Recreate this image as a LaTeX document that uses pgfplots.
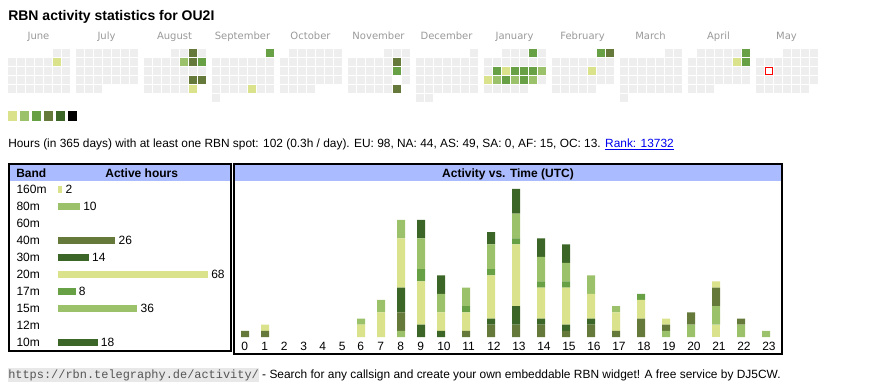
\documentclass[border=0pt]{standalone}
\usepackage{pgfplots}
\pgfplotsset{compat=1.18}
\usepackage{pgfplotstable}
\usepackage{fontspec}
\setmainfont{Liberation Sans}
\setmonofont{Liberation Mono}
\newfontfamily\verd{DejaVu Sans}

\definecolor{lvA}{HTML}{DAE28B}
\definecolor{lvB}{HTML}{9CC16B}
\definecolor{lvC}{HTML}{68A046}
\definecolor{lvD}{HTML}{65793A}
\definecolor{lvE}{HTML}{3B6627}
\definecolor{cellgray}{HTML}{EEEEEE}
\definecolor{hdrblue}{HTML}{AABBFF}
\definecolor{monthgray}{HTML}{999999}
\definecolor{linkblue}{HTML}{0000EE}
\definecolor{codebg}{HTML}{E8E8E8}
\definecolor{codetext}{HTML}{555555}
\definecolor{todayred}{RGB}{255,0,0}

\newcommand\fs{\fontsize{9}{11}\selectfont}

% hourly activity, stacked by band (bottom to top)
\pgfplotstableread{
hour xpos b160 b80 b40 b30 b20 b17 b15 b10
0  245   0 0 1 0 0  0 0 0
1  265   0 0 1 0 1  0 0 0
2  284.5 0 0 0 0 0  0 0 0
3  304   0 0 0 0 0  0 0 0
4  323   0 0 0 0 0  0 0 0
5  342.5 0 0 0 0 0  0 0 0
6  361   0 0 0 0 2  0 1 0
7  381   0 0 0 0 4  0 2 0
8  401   0 1 3 4 8  0 3 0
9  421   0 0 0 2 7  2 5 3
10 441   0 0 0 1 3  0 3 3
11 466   0 0 1 0 3  1 3 0
12 491   0 0 2 1 7  1 4 2
13 516   0 0 2 3 10 1 4 4
14 541   0 0 2 1 5  1 4 3
15 566   0 0 1 1 6  1 3 3
16 591   0 0 2 1 4  0 3 0
17 616   0 0 1 0 3  0 1 0
18 641   0 0 3 0 3  1 0 0
19 666   0 1 1 0 1  0 0 0
20 691   0 2 2 0 0  0 0 0
21 716   2 3 3 0 1  0 0 0
22 741   0 2 1 0 0  0 0 0
23 766   0 1 0 0 0  0 0 0
}\hourly

% coloured calendar days: month index, weekday column, week row, level
\pgfplotstableread{
m c r lvl
0 5 1 a
2 5 0 d
2 4 1 b
2 5 1 d
2 6 1 c
2 5 3 d
2 6 3 d
2 5 4 a
3 6 0 c
3 4 4 a
5 5 1 d
5 5 2 c
5 5 3 w
5 5 4 d
7 5 0 c
7 1 2 c
7 2 2 a
7 3 2 c
7 4 2 c
7 5 2 c
7 6 2 b
7 0 3 a
7 1 3 b
7 2 3 c
7 3 3 b
7 4 3 c
7 5 3 b
8 5 0 c
8 6 0 d
8 4 2 a
10 6 0 c
10 5 1 a
10 6 1 c
}\calcells

% all days of the 12 months (month / first weekday column / number of days)
\def\graycells{}
\foreach \mm/\ff/\nn in {0/5/30,1/0/31,2/3/31,3/6/30,4/1/31,5/4/30,6/6/31,7/2/31,8/5/28,9/5/31,10/1/30,11/3/31}{%
  \foreach \dd in {1,...,\nn}{%
    \pgfmathtruncatemacro\kk{\ff+\dd-1}%
    \pgfmathtruncatemacro\cc{mod(\kk,7)}%
    \pgfmathtruncatemacro\rr{div(\kk,7)}%
    \pgfmathsetmacro\xx{8+68*\mm+9*\cc+3.5}%
    \pgfmathsetmacro\yy{49+9*\rr+3.5}%
    \xdef\graycells{\graycells(\xx,\yy)}%
  }%
}
\def\plotgray{\addplot[cellgray, only marks, mark=square*, mark size=2.5pt, mark options={line width=0.1pt}] coordinates}

\begin{document}
\begin{tikzpicture}
% ---------------- canvas in pixel units ----------------
\begin{axis}[at={(0pt,0pt)}, anchor=north west, scale only axis,
  width=652.5pt, height=292.5pt, xmin=0, xmax=870, ymin=0, ymax=390,
  y dir=reverse, hide axis, clip=false]
\expandafter\plotgray\expandafter{\graycells};
\addplot[scatter, only marks, mark=square*, mark size=2.5pt,
  mark options={line width=0.1pt},
  scatter src=explicit symbolic,
  scatter/classes={
    a={mark=square*, lvA},
    b={mark=square*, lvB},
    c={mark=square*, lvC},
    d={mark=square*, lvD},
    e={mark=square*, lvE},
    w={mark=square*, white}}]
  table[x expr={8+68*\thisrow{m}+9*\thisrow{c}+3.5}, y expr={49+9*\thisrow{r}+3.5}, meta=lvl]{\calcells};
% today (13 May): red square with white inside
\addplot[only marks, mark=square*, mark size=2.8pt, mark options={fill=todayred, draw=todayred, line width=0.1pt}]
  coordinates {(768.5,70.5)};
\addplot[only marks, mark=square*, mark size=2.0pt, mark options={fill=white, draw=white, line width=0.1pt}]
  coordinates {(768.5,70.5)};

% title and month names
\node[anchor=base west, inner sep=0pt, font=\fontsize{10.5}{12}\selectfont\bfseries] at (8,20.5) {RBN activity statistics for OU2I};
\begin{scope}[every node/.style={anchor=base, inner sep=0pt, font=\verd\fontsize{7.5}{9}\selectfont, text=monthgray}]
\node at (38.5,39) {June};
\node at (106.5,39) {July};
\node at (174.5,39) {August};
\node at (242.5,39) {September};
\node at (310.5,39) {October};
\node at (378.5,39) {November};
\node at (446.5,39) {December};
\node at (514.5,39) {January};
\node at (582.5,39) {February};
\node at (650.5,39) {March};
\node at (718.5,39) {April};
\node at (786.5,39) {May};
\end{scope}

% colour legend
\fill[lvA] (8,111) rectangle (17,120.5);
\fill[lvB] (20,111) rectangle (29,120.5);
\fill[lvC] (32,111) rectangle (41,120.5);
\fill[lvD] (44,111) rectangle (53,120.5);
\fill[lvE] (56,111) rectangle (65,120.5);
\fill[black] (68,111) rectangle (77,120.5);

\node[anchor=base west, inner sep=0pt, font=\fontsize{8.92}{11}\selectfont] at (8,147.5)
  {Hours (in 365 days) with at least one RBN spot: 102 (0.3h / day). EU: 98, NA: 44, AS: 49, SA: 0, AF: 15, OC: 13. \textcolor{linkblue}{\underline{Rank: 13732}}};

% boxes
\fill[hdrblue] (10,165.3) rectangle (230,180.7);
\draw[line width=1.5pt] (9,164.3) rectangle (231,351);
\fill[hdrblue] (235,165) rectangle (781,181);
\draw[line width=1.5pt] (234,164) rectangle (782,354);
\node[anchor=base west, inner sep=0pt, font=\fs\bfseries] at (16,177.3) {Band};
\node[anchor=base, inner sep=0pt, font=\fs\bfseries] at (141.7,177.3) {Active hours};
\node[anchor=base, inner sep=0pt, font=\fs\bfseries] at (508,177.3) {Activity vs. Time (UTC)};

% footer
\node[anchor=base west, inner sep=0pt, font=\fontsize{8.95}{11}\selectfont] at (8,378)
  {{\setlength{\fboxsep}{0pt}\colorbox{codebg}{\strut\ttfamily\color{codetext}https://rbn.telegraphy.de/activity/}} - Search for any callsign and create your own embeddable RBN widget! A free service by DJ5CW.};
\end{axis}

% ---------------- band table bars ----------------
\begin{axis}[at={(43.5pt,-135.6pt)}, anchor=north west, scale only axis,
  width=112.5pt, height=127.5pt, xmin=0, xmax=68, ymin=0.5, ymax=10.5, y dir=reverse,
  xbar, bar width=5.25pt, bar shift=0pt,
  axis line style={draw=none}, tick style={draw=none},
  xtick=\empty, ytick={1,2,3,4,5,6,7,8,9,10},
  yticklabels={160m,80m,60m,40m,30m,20m,17m,15m,12m,10m},
  yticklabel style={anchor=west, inner sep=0pt, xshift=-27pt, font=\fs},
  nodes near coords,
  every node near coord/.append style={anchor=west, inner sep=0pt, xshift=2.25pt, font=\fs, text=black},
  /pgf/number format/assume math mode=true, clip=false]
\addplot[fill=lvA, draw=none] coordinates {(2,1)};
\addplot[fill=lvB, draw=none] coordinates {(10,2)};
\addplot[fill=lvD, draw=none] coordinates {(26,4)};
\addplot[fill=lvE, draw=none] coordinates {(14,5)};
\addplot[fill=lvA, draw=none] coordinates {(68,6)};
\addplot[fill=lvC, draw=none] coordinates {(8,7)};
\addplot[fill=lvB, draw=none] coordinates {(36,8)};
\addplot[fill=lvE, draw=none] coordinates {(18,10)};
\end{axis}

% ---------------- activity vs time ----------------
\begin{axis}[at={(174.75pt,-252.75pt)}, anchor=south west, scale only axis,
  width=412.5pt, height=115.6875pt, xmin=233, xmax=783, ymin=0, ymax=25,
  ybar stacked, bar width=6pt,
  axis line style={draw=none}, tick style={draw=none},
  ytick=\empty,
  xtick={245,265,284.5,304,323,342.5,361,381,401,421,441,466,491,516,541,566,591,616,641,666,691,716,741,766},
  xticklabels={0,1,2,3,4,5,6,7,8,9,10,11,12,13,14,15,16,17,18,19,20,21,22,23},
  xticklabel style={anchor=north west, inner sep=0pt, xshift=-3pt, yshift=-3.5pt, font=\fs},
  clip=false]
\addplot[fill=lvA, draw=none] table[x=xpos, y=b160]{\hourly};
\addplot[fill=lvB, draw=none] table[x=xpos, y=b80]{\hourly};
\addplot[fill=lvD, draw=none] table[x=xpos, y=b40]{\hourly};
\addplot[fill=lvE, draw=none] table[x=xpos, y=b30]{\hourly};
\addplot[fill=lvA, draw=none] table[x=xpos, y=b20]{\hourly};
\addplot[fill=lvC, draw=none] table[x=xpos, y=b17]{\hourly};
\addplot[fill=lvB, draw=none] table[x=xpos, y=b15]{\hourly};
\addplot[fill=lvE, draw=none] table[x=xpos, y=b10]{\hourly};
\end{axis}
\pgfresetboundingbox
\useasboundingbox (0pt,0pt) rectangle (652.5pt,-292.5pt);
\end{tikzpicture}
\end{document}
